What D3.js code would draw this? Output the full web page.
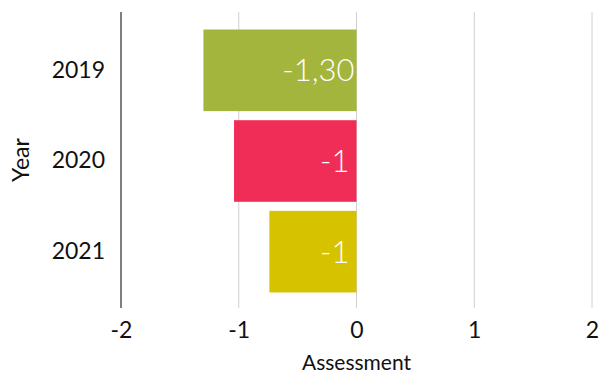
<!DOCTYPE html>
<html>
<head>
<meta charset="utf-8">
<script src="https://cdn.jsdelivr.net/npm/d3@7"></script>
<style>
  html, body { margin: 0; padding: 0; background: #fff; }
  text { font-family: Lato, "Open Sans", sans-serif; }
</style>
</head>
<body>
<svg id="chart" width="599" height="376"></svg>
<script>
const years = ["2019", "2020", "2021"];
const values = [-1.30, -1.04, -0.74];
const valueLabels = ["-1,30", "-1", "-1"];
const colors = ["#a3b53c", "#f02d57", "#d7c200"];
const xTicks = [-2, -1, 0, 1, 2];
const xTitle = "Assessment";
const yTitle = "Year";

const svg = d3.select("#chart");
const mLeft = 121, mRight = 592, mTop = 12, mBottom = 308;

const x = d3.scaleLinear().domain([-2, 2]).range([mLeft, mRight]);
const y = d3.scaleBand().domain(years).range([25, 297]).paddingInner(0.1).paddingOuter(0.05);

// gridlines
svg.append("g").selectAll("line").data(xTicks.slice(1)).join("line")
  .attr("x1", d => x(d)).attr("x2", d => x(d))
  .attr("y1", mTop).attr("y2", mBottom)
  .attr("stroke", "#d0d0d0").attr("stroke-width", 1);

// bars
const data = years.map((yr, i) => ({ yr, v: values[i], label: valueLabels[i], c: colors[i] }));
svg.append("g").selectAll("rect").data(data).join("rect")
  .attr("x", d => x(Math.min(0, d.v)))
  .attr("width", d => Math.abs(x(d.v) - x(0)))
  .attr("y", d => y(d.yr))
  .attr("height", y.bandwidth())
  .attr("fill", d => d.c);

// value labels
svg.append("g").selectAll("text").data(data).join("text")
  .attr("x", d => x(0) - (d.label.length > 2 ? 2 : 7))
  .attr("y", d => y(d.yr) + y.bandwidth() / 2)
  .attr("dy", "0.36em")
  .attr("text-anchor", "end")
  .attr("fill", "#fff")
  .attr("font-size", 31)
  .attr("font-weight", 300)
  .text(d => d.label);

// left axis line
svg.append("line")
  .attr("x1", x(-2)).attr("x2", x(-2))
  .attr("y1", mTop).attr("y2", mBottom)
  .attr("stroke", "#555").attr("stroke-width", 1.5);

// x axis
const xAxis = d3.axisBottom(x).tickValues(xTicks).tickSize(0).tickPadding(14)
  .tickFormat(d => d3.format("d")(d).replace("−", "-"));
const gx = svg.append("g").attr("transform", `translate(0,${mBottom})`).call(xAxis);
gx.select(".domain").remove();
gx.selectAll("text").attr("font-size", 23).attr("fill", "#111").attr("font-family", "Lato, sans-serif");

// y axis
const yAxis = d3.axisLeft(y).tickSize(0).tickPadding(16);
const gy = svg.append("g").attr("transform", `translate(${mLeft},0)`).call(yAxis);
gy.select(".domain").remove();
gy.selectAll("text").attr("font-size", 23).attr("fill", "#111").attr("font-family", "Lato, sans-serif");

// titles
svg.append("text")
  .attr("x", x(0)).attr("y", 370)
  .attr("text-anchor", "middle")
  .attr("font-size", 21).attr("fill", "#111")
  .text(xTitle);

svg.append("text")
  .attr("transform", `translate(29,${(mTop + mBottom) / 2}) rotate(-90)`)
  .attr("text-anchor", "middle")
  .attr("font-size", 23).attr("fill", "#111")
  .text(yTitle);
</script>
</body>
</html>
